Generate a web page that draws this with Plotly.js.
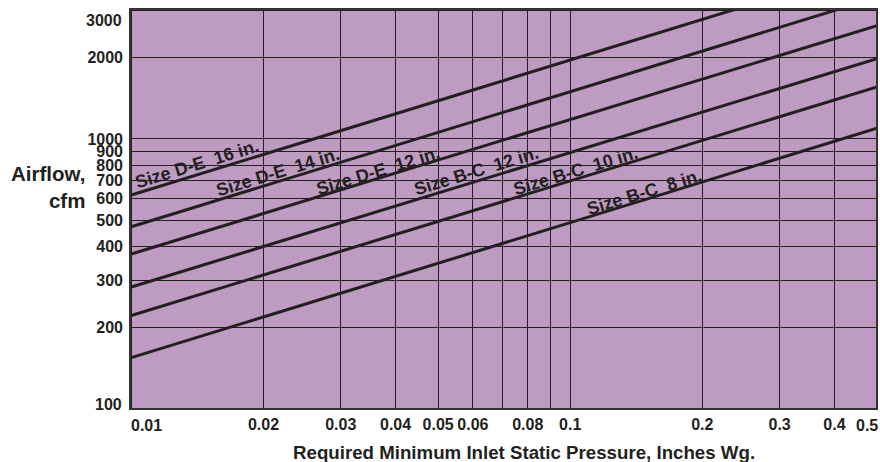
<!DOCTYPE html>
<html>
<head>
<meta charset="utf-8">
<script src="https://cdn.plot.ly/plotly-3.0.1.min.js"></script>
<style>html,body{margin:0;padding:0;background:#fff;}#chart{width:880px;height:462px;}</style>
</head>
<body>
<div id="chart"></div>
<script>
// Data
const pressure = [0.01, 0.5];              // Inches Wg. (line end points)
const sizeDE16 = [620, 4384];               // cfm
const sizeDE14 = [473, 3345];
const sizeDE12 = [375, 2630];
const sizeBC12 = [283, 1985];
const sizeBC10 = [222, 1560];
const sizeBC8  = [155, 1096];
const seriesNames = ["Size D-E\u00a0\u00a016 in.", "Size D-E\u00a0\u00a014 in.", "Size D-E\u00a0\u00a012 in.",
                     "Size B-C\u00a0\u00a012 in.", "Size B-C\u00a0\u00a010 in.", "Size B-C\u00a0\u00a08 in."];
const xTickVals = [0.01, 0.02, 0.03, 0.04, 0.05, 0.06, 0.07, 0.08, 0.09, 0.1, 0.2, 0.3, 0.4, 0.5];
const xTickText = ["0.01", "0.02", "0.03", "0.04", "0.05", "0.06", "", "0.08", "", "0.1", "0.2", "0.3", "0.4", "0.5"];
const yTickVals = [100, 200, 300, 400, 500, 600, 700, 800, 900, 1000, 2000, 3000];
const yTickText = ["100", "200", "300", "400", "500", "600", "700", "800", "900", "1000", "2000", "3000"];

const allSeries = [sizeDE16, sizeDE14, sizeDE12, sizeBC12, sizeBC10, sizeBC8];
const lineColor = '#231f20';
const font = 'Liberation Sans, Arial, Helvetica, sans-serif';
const tickSize = 16;
const traces = allSeries.map((s, i) => ({
  x: pressure, y: s, type: 'scatter', mode: 'lines', name: seriesNames[i],
  line: {color: lineColor, width: 3}, hoverinfo: 'skip'
}));

// Edge tick labels that the reference nudges inward are drawn as annotations
const edgeX = {0.01: 15, 0.5: -10};
const edgeY = {100: 5, 3000: -10};
const xShown = xTickText.map((t, i) => (edgeX[xTickVals[i]] !== undefined ? '' : t));
const yShown = yTickText.map((t, i) => (edgeY[yTickVals[i]] !== undefined ? '' : t));

// label placement (position along each line)
const labelPos = [[0.01413, 806], [0.0216, 752], [0.0364, 764], [0.0611, 758], [0.1027, 764], [0.148, 634]];
const annotations = seriesNames.map((n, i) => ({
  x: Math.log10(labelPos[i][0]), y: Math.log10(labelPos[i][1]), xref: 'x', yref: 'y',
  text: '<b>' + n + '</b>', showarrow: false, textangle: -17,
  font: {family: font, size: 18, color: '#231f20'}
}));
xTickVals.forEach((v, i) => {
  if (edgeX[v] !== undefined) annotations.push({
    x: Math.log10(v), xref: 'x', yref: 'paper', y: 0, yanchor: 'top', yshift: -6, xshift: edgeX[v],
    text: '<b>' + xTickText[i] + '</b>', showarrow: false,
    font: {family: font, size: tickSize, color: '#231f20'}
  });
});
yTickVals.forEach((v, i) => {
  if (edgeY[v] !== undefined) annotations.push({
    y: Math.log10(v), yref: 'y', xref: 'paper', x: 0, xanchor: 'right', xshift: -6, yshift: edgeY[v],
    text: '<b>' + yTickText[i] + '</b>', showarrow: false,
    font: {family: font, size: tickSize, color: '#231f20'}
  });
});
annotations.push({
  xref: 'paper', yref: 'paper', x: -0.058, y: 0.555, xanchor: 'right', yanchor: 'middle', align: 'right',
  text: '<b>Airflow,</b><br><b>cfm</b>', showarrow: false,
  font: {family: font, size: 20.5, color: '#231f20'}
});
annotations.push({
  xref: 'paper', yref: 'paper', x: 0.527, y: -0.1075, xanchor: 'center', yanchor: 'middle',
  text: '<b>Required Minimum Inlet Static Pressure, Inches Wg.</b>', showarrow: false,
  font: {family: font, size: 18.7, color: '#231f20'}
});

const layout = {
  width: 880, height: 462,
  margin: {l: 130, r: 3, t: 9, b: 53},
  paper_bgcolor: '#ffffff', plot_bgcolor: 'rgb(190,155,192)',
  showlegend: false,
  xaxis: {
    type: 'log', range: [Math.log10(0.00993), Math.log10(0.5)],
    tickvals: xTickVals, ticktext: xShown, ticks: '', ticklabelstandoff: 4,
    showgrid: true, gridcolor: lineColor, gridwidth: 1, zeroline: false,
    showline: false,
    tickfont: {family: font, size: tickSize, color: '#231f20', weight: 'bold'}
  },
  yaxis: {
    type: 'log', range: [2, Math.log10(3030)],
    tickvals: yTickVals, ticktext: yShown, ticks: '', ticklabelstandoff: 6,
    showgrid: true, gridcolor: lineColor, gridwidth: 1, zeroline: false,
    showline: false,
    tickfont: {family: font, size: tickSize, color: '#231f20', weight: 'bold'}
  },
  shapes: [
    {type: 'line', xref: 'paper', yref: 'y', x0: 0, x1: 1.004, y0: Math.log10(2000), y1: Math.log10(2000),
     line: {color: lineColor, width: 2}},
    {type: 'rect', xref: 'paper', yref: 'paper', x0: 0, x1: 1, y0: 0, y1: 1,
     line: {color: '#333333', width: 2}}
  ],
  annotations: annotations
};

Plotly.newPlot('chart', traces, layout, {staticPlot: true, displayModeBar: false});
</script>
</body>
</html>
